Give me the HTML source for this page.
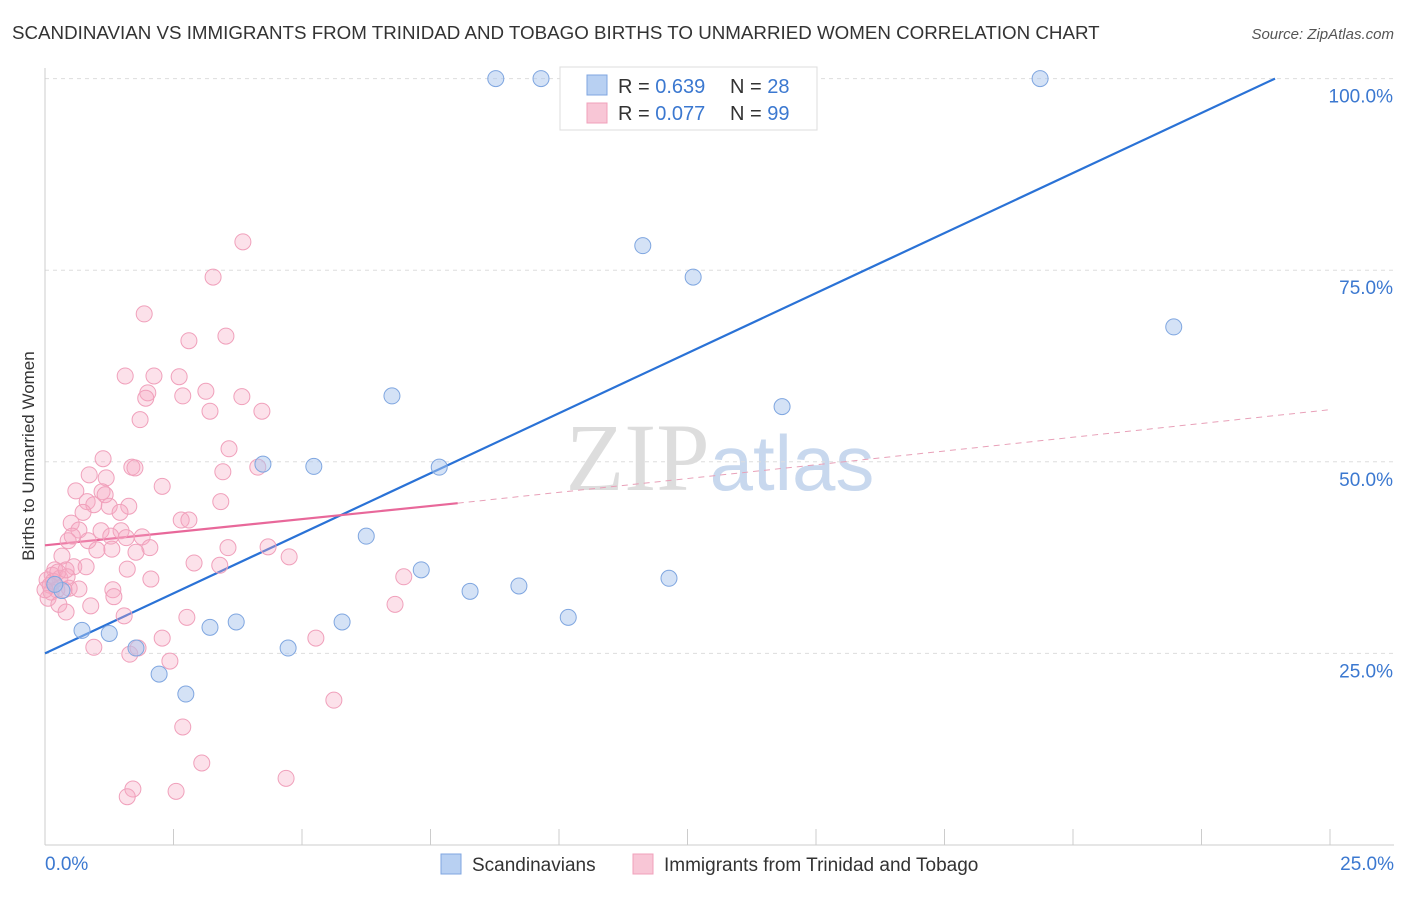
<!DOCTYPE html>
<html><head><meta charset="utf-8"><style>
body{margin:0;background:#fff;font-family:"Liberation Sans",sans-serif}
svg text{font-family:"Liberation Sans",sans-serif}
</style></head><body>
<svg id="chart" width="1406" height="892" viewBox="0 0 1406 892" xmlns="http://www.w3.org/2000/svg">
<text x="12" y="39" font-size="18.75" fill="#333">SCANDINAVIAN VS IMMIGRANTS FROM TRINIDAD AND TOBAGO BIRTHS TO UNMARRIED WOMEN CORRELATION CHART</text>
<text x="1394" y="39" font-size="15" fill="#555" font-style="italic" text-anchor="end">Source: ZipAtlas.com</text>
<text x="720" y="490" font-size="96" text-anchor="middle"><tspan fill="#ddd" font-family="Liberation Serif">ZIP</tspan><tspan fill="#c8d8ee" font-size="78">atlas</tspan></text>
<g id="grid"></g>
<g id="axes"></g>
<g id="lines"></g>
<g id="pts"></g>
<text transform="translate(34,456) rotate(-90)" font-size="17" fill="#333" text-anchor="middle">Births to Unmarried Women</text>
<g>
<rect x="560" y="67" width="257" height="63" fill="#fff" stroke="#ddd"/>
<rect x="587" y="75" width="20" height="20" fill="#b8d0f2" stroke="#7fa6e0"/>
<rect x="587" y="103" width="20" height="20" fill="#f8c6d6" stroke="#f0a0bb"/>
<text x="618" y="93" font-size="20" fill="#333">R = <tspan fill="#3b78d0">0.639</tspan></text>
<text x="730" y="93" font-size="20" fill="#333">N = <tspan fill="#3b78d0">28</tspan></text>
<text x="618" y="120" font-size="20" fill="#333">R = <tspan fill="#3b78d0">0.077</tspan></text>
<text x="730" y="120" font-size="20" fill="#333">N = <tspan fill="#3b78d0">99</tspan></text>
</g>
<g>
<rect x="441" y="854" width="20" height="20" fill="#b8d0f2" stroke="#7fa6e0"/>
<text x="472" y="871" font-size="19" fill="#333">Scandinavians</text>
<rect x="633" y="854" width="20" height="20" fill="#f8c6d6" stroke="#f0a0bb"/>
<text x="664" y="871" font-size="19" fill="#333">Immigrants from Trinidad and Tobago</text>
</g>
</svg>
<script>
const xTicks=[0,2.5,5,7.5,10,12.5,15,17.5,20,22.5,25];
const yTicks=[25,50,75,100];
const yTickLabels=["25.0%","50.0%","75.0%","100.0%"];
const blueX=[8.77,9.65,19.36,11.63,12.61,21.96,6.75,14.34,4.24,5.23,7.67,6.25,7.32,12.14,9.22,8.27,10.18,5.78,3.72,3.21,0.72,1.25,4.73,1.77,2.22,2.74,0.33,0.19];
const blueY=[100,100,100,78.2,74.1,67.6,58.6,57.2,49.7,49.4,49.3,40.3,35.9,34.8,33.8,33.1,29.7,29.1,29.1,28.4,28.0,27.6,25.7,25.7,22.3,19.7,33.2,34.0];
const pinkX=[3.85,3.27,1.93,3.52,2.80,1.56,2.12,2.61,3.13,2.00,2.68,1.96,3.83,3.21,4.22,1.85,3.58,1.13,1.69,1.75,3.46,4.14,2.28,0.60,0.86,1.19,1.11,1.17,3.42,0.82,1.63,0.95,1.25,0.74,1.46,2.65,2.80,0.51,0.66,1.09,1.48,0.53,1.28,0.45,0.84,1.58,1.89,3.56,4.34,2.04,1.30,1.01,1.77,0.33,4.75,2.90,3.40,0.56,0.80,1.60,0.19,0.14,0.29,0.04,2.06,6.98,0.10,0.47,0.23,0.66,1.32,0.37,0.12,0.06,1.34,0.27,0.89,6.81,0.41,1.54,2.76,2.28,0.95,5.27,1.65,1.81,2.43,5.62,2.68,3.05,4.69,1.71,2.55,1.60,0.16,0.25,0.43,0.00,0.41];
const pinkY=[78.7,74.1,69.3,66.4,65.8,61.2,61.2,61.1,59.2,59.0,58.6,58.3,58.5,56.6,56.6,55.5,51.7,50.4,49.3,49.2,48.7,49.3,46.8,46.2,48.3,47.9,46.1,45.7,44.8,44.8,44.2,44.4,44.2,43.4,43.4,42.4,42.4,42.0,41.1,41.0,41.0,40.3,40.3,39.7,39.7,40.1,40.2,38.8,38.9,38.8,38.6,38.5,38.2,37.7,37.6,36.8,36.5,36.3,36.3,36.0,35.9,35.2,34.8,34.6,34.7,35.0,33.9,33.5,33.3,33.4,33.3,33.3,33.0,32.2,32.4,31.4,31.2,31.4,30.4,29.9,29.7,27.0,25.8,27.0,24.9,25.7,24.0,18.9,15.4,10.7,8.7,7.3,7.0,6.3,34.4,35.6,35.0,33.3,35.9];
const blueLine=[0,25.0,23.93,100];
const pinkLine=[0,39.1,8.03,44.6,25,56.8];
const X=v=>45+v*51.4, Y=v=>845-v*7.664;
const NS="http://www.w3.org/2000/svg";
function mk(t,a,p){const e=document.createElementNS(NS,t);for(const k in a)e.setAttribute(k,a[k]);p.appendChild(e);return e;}
const grid=document.getElementById('grid'),axes=document.getElementById('axes'),lines=document.getElementById('lines'),pts=document.getElementById('pts');
yTicks.forEach((t,i)=>{
 const g=mk('line',{x1:45,x2:1394,y1:Y(t),y2:Y(t),stroke:'#ddd','stroke-dasharray':'4,4'},grid);
 
 
 const l=mk('text',{x:1393,y:Y(t)+24,'font-size':19,fill:'#3b78d0','text-anchor':'end'},axes);
 l.textContent=yTickLabels[i];
 
 
});
mk('line',{x1:45,x2:45,y1:68,y2:845,stroke:'#ccc'},axes);
mk('line',{x1:45,x2:1394,y1:845,y2:845,stroke:'#ccc'},axes);
xTicks.forEach(t=>{const k=mk('line',{x1:X(t),x2:X(t),y1:829,y2:845,stroke:'#ccc'},axes);
 
 });
const xl0=mk('text',{x:45,y:870,'font-size':19,fill:'#3b78d0'},axes);xl0.textContent="0.0%";


const xl1=mk('text',{x:1394,y:870,'font-size':19,fill:'#3b78d0','text-anchor':'end'},axes);xl1.textContent="25.0%";


pinkX.forEach((v,i)=>{const c=mk('circle',{cx:X(v),cy:Y(pinkY[i]),r:8,fill:'rgba(245,170,195,0.35)',stroke:'#f0a0bb','stroke-width':1},pts);
 
 });
blueX.forEach((v,i)=>{const c=mk('circle',{cx:X(v),cy:Y(blueY[i]),r:8,fill:'rgba(170,198,238,0.5)',stroke:'#7fa6e0','stroke-width':1},pts);
 
 });
const bl=mk('line',{x1:X(blueLine[0]),y1:Y(blueLine[1]),x2:X(blueLine[2]),y2:Y(blueLine[3]),stroke:'#2a72d6','stroke-width':2.2},lines);


const pl=mk('line',{x1:X(pinkLine[0]),y1:Y(pinkLine[1]),x2:X(pinkLine[2]),y2:Y(pinkLine[3]),stroke:'#e8689a','stroke-width':2.2},lines);


const pd=mk('line',{x1:X(pinkLine[2]),y1:Y(pinkLine[3]),x2:X(pinkLine[4]),y2:Y(pinkLine[5]),stroke:'#e8a0b8','stroke-width':1,'stroke-dasharray':'6,5'},lines);


</script>
</body></html>
